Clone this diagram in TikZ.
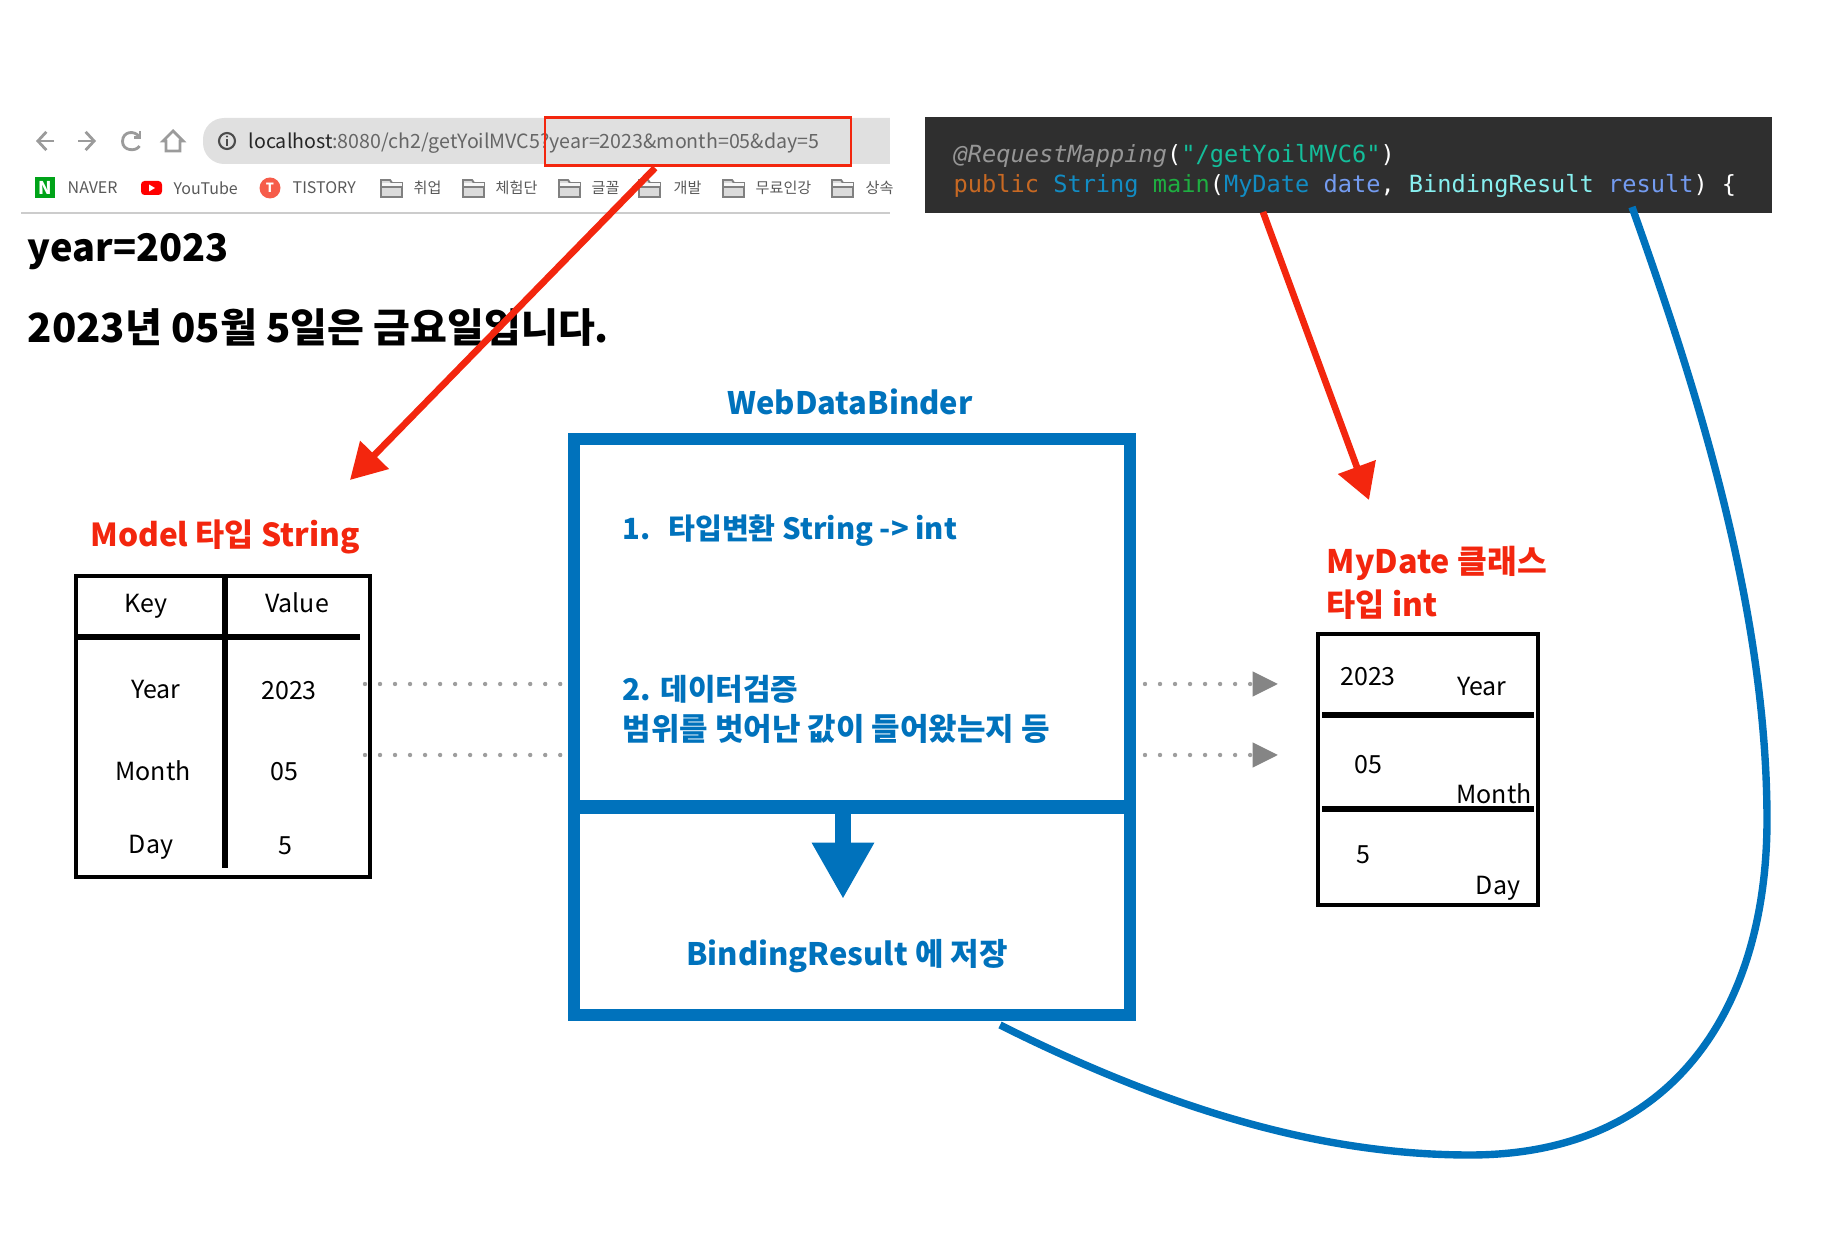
\documentclass[tikz,border=0pt]{standalone}
\usepackage{fontspec}
\setmainfont{Noto Sans CJK KR}
\setmonofont{DejaVu Sans Mono}
\usetikzlibrary{arrows.meta,positioning,calc}
\definecolor{bindBlue}{RGB}{0,114,188}
\definecolor{noteRed}{RGB}{243,38,14}
\definecolor{barGray}{RGB}{224,224,224}
\definecolor{iconGray}{RGB}{155,155,155}
\definecolor{codeBack}{RGB}{47,47,47}
\definecolor{codeGray}{RGB}{150,150,150}
\definecolor{codeStr}{RGB}{20,190,155}
\definecolor{codeKey}{RGB}{200,105,35}
\definecolor{codeType}{RGB}{18,140,195}
\definecolor{codeFun}{RGB}{30,175,65}
\definecolor{codeVar}{RGB}{115,155,240}
\definecolor{codeCls}{RGB}{135,240,240}
\tikzset{
  tblline/.style={draw=black, line width=1.6pt},
  tbltext/.style={font=\fontsize{7.1}{9}\selectfont, inner sep=0pt, text=black},
  bluetext/.style={font=\fontsize{8.8}{11}\selectfont\bfseries, inner sep=0pt, text=bindBlue},
  redtext/.style={font=\fontsize{9}{11}\selectfont\bfseries, inner sep=0pt, text=noteRed},
  pagetext/.style={font=\fontsize{10.8}{13}\selectfont\bfseries, inner sep=0pt, text=black, anchor=west},
  marktext/.style={font=\fontsize{4.3}{6}\selectfont, inner sep=0pt, text=black!65, anchor=west},
  marklatin/.style={marktext, font=\fontsize{4.55}{6}\selectfont},
  codetext/.style={font=\fontsize{6.72}{8}\selectfont\ttfamily, inner sep=0pt, anchor=west},
  redarrow/.style={draw=noteRed, line width=1.9pt, -{Triangle[length=10pt,width=11pt]}},
  bluecurve/.style={draw=bindBlue, line width=2.1pt},
  dotline/.style={draw=black!38, line width=1.25pt, line cap=round, dash pattern=on 0pt off 4.27pt},
  dotarrow/.style={dotline, -{Triangle[length=7.2pt,width=6.8pt,color=black!48]}},
  iconline/.style={draw=iconGray, line width=0.8pt},
  folder/.style={draw=black!50, line width=0.55pt, fill=black!14},
}
\begin{document}
\begin{tikzpicture}[x=0.01cm, y=-0.01cm]
  \useasboundingbox (0,0) rectangle (1838,1240);
  % Browser bar
  \fill[barGray, rounded corners=6pt] (203,118) rectangle (930,164);
  \fill[white] (890,110) rectangle (930,170);
  \draw[iconline, -{Straight Barb[length=2.4pt,width=5.2pt]}] (54,141) -- (36,141);
  \draw[iconline, -{Straight Barb[length=2.4pt,width=5.2pt]}] (78,141) -- (96,141);
  \draw[iconline] (139.5,146) .. controls (136,152) and (122.5,151) .. (122.5,141.5)
    .. controls (122.5,131) and (135,130) .. (139.5,137);
  \draw[iconline] (140,131) -- (140,137.5) -- (134,137.5);
  \draw[iconline] (166,151) -- (166,141) -- (163,141) -- (173,131) -- (183,141) -- (180,141) -- (180,151) -- cycle;
  \draw[black!70, line width=0.6pt] (227,141) circle (8);
  \fill[black!70] (226,139) rectangle (228,146);
  \fill[black!70] (227,136.5) circle (1.2);
  \node[font=\fontsize{5.58}{8}\selectfont, inner sep=0pt, anchor=west, text=black!60] (url) at (248,143)
    {{\color{black!85}localhost}:8080/ch2/getYoilMVC5?year=2023\&month=05\&day=5};
  \node[draw=noteRed, line width=0.85pt, minimum width=306*0.01cm, minimum height=48*0.01cm, inner sep=0pt] (query) at (698,142) {};
  % Bookmarks
  \fill[green!60!black!90!cyan] (35,177) rectangle (55,198);
  \node[font=\fontsize{5}{5}\selectfont\bfseries, text=white, inner sep=0pt] (navericon) at (45,188) {N};
  \node[marklatin] (naver) at (67,188) {NAVER};
  \fill[red, rounded corners=1pt] (141,181) rectangle (162,195);
  \fill[white] (149,184.5) -- (149,191.5) -- (155,188) -- cycle;
  \node[marklatin] (youtube) at (173,188) {YouTube};
  \fill[noteRed!75] (270,188) circle (10.5);
  \node[font=\fontsize{3.6}{4}\selectfont\bfseries, text=white, inner sep=0pt] (tistoryicon) at (270,188) {T};
  \node[marklatin] (tistory) at (292,188) {TISTORY};
  \foreach \fx/\lx/\lbl in {381/413/취업, 463/495/체험단, 559/591/글꼴, 639/673/개발, 723/755/무료인강, 832/865/상속} {
    \draw[folder] (\fx,197) -- ++(0,-17) -- ++(9,0) -- ++(2,3) -- ++(10,0) -- ++(0,14) -- cycle;
    \fill[black!3] (\fx+0.5,183.5) rectangle ++(20,3);
    \draw[black!50, line width=0.4pt] (\fx,187) -- ++(21,0);
    \node[marktext] (mark\fx) at (\lx,188) {\lbl};
  }
  \draw[black!20, line width=0.6pt] (21,213) -- (890,213);
  % Page text
  \node[pagetext] (yeartext) at (27,252) {year=2023};
  \node[pagetext, font=\fontsize{11.4}{13}\selectfont\bfseries] (daytext) at (27,327.5) {2023년 05월 5일은 금요일입니다.};
  % Code
  \node[fill=codeBack, minimum width=847*0.01cm, minimum height=96*0.01cm, inner sep=0pt] (code) at (1348.5,165) {};
  \node[codetext] (line1) at (953,156.5) {{\itshape\color{codeGray}@RequestMapping}\textcolor{white}{(}\textcolor{codeStr}{"/getYoilMVC6"}\textcolor{white}{)}};
  \node[codetext] (line2) at (953,186) {\textcolor{codeKey}{public} \textcolor{codeType}{String} \textcolor{codeFun}{main}\textcolor{white}{(}\textcolor{codeType}{MyDate} \textcolor{codeVar}{date}\textcolor{white}{,} \textcolor{codeCls}{BindingResult} \textcolor{codeVar}{result}\textcolor{white}{) \{}};
  % Binder
  \node[bluetext] (bindertitle) at (850,402) {WebDataBinder};
  \node[draw=bindBlue, line width=3.4pt, minimum width=556*0.01cm, minimum height=576*0.01cm, inner sep=0pt] (binder) at (852,727) {};
  \coordinate (splitL) at (574,807);
  \coordinate (splitR) at (1130,807);
  \draw[bindBlue, line width=4pt] (splitL) -- (splitR);
  \node[bluetext, anchor=west, font=\fontsize{8.3}{11}\selectfont\bfseries] (stepa) at (622,530.5) {1.\hspace{5pt}타입변환 String -> int};
  \node[bluetext, anchor=west, font=\fontsize{8.5}{11}\selectfont\bfseries] (stepb) at (622,689) {2. 데이터검증};
  \node[bluetext, anchor=west] (stepc) at (622,729) {범위를 벗어난 값이 들어왔는지 등};
  \node[bluetext] (saved) at (847,956.5) {BindingResult 에 저장};
  \coordinate (saveTop) at (843,812);
  \coordinate (saveTip) at (843,899);
  \draw[bindBlue, line width=4.6pt, -{Triangle[length=16pt,width=16.6pt]}] (saveTop) -- (saveTip);
  % Model table
  \node[redtext] (modeltitle) at (225,536.5) {Model 타입 String};
  \node[draw=black, line width=1pt, minimum width=294*0.01cm, minimum height=301*0.01cm, inner sep=0pt] (model) at (223,726.5) {};
  \coordinate (modelTop) at (225,578);
  \coordinate (modelBot) at (225,868);
  \coordinate (modelL) at (75,637);
  \coordinate (modelR) at (360,637);
  \draw[tblline] (modelTop) -- (modelBot);
  \draw[tblline] (modelL) -- (modelR);
  \node[tbltext] (mkey) at (146,606.5) {Key};
  \node[tbltext] (mval) at (297,603) {Value};
  \node[tbltext] (myear) at (156,690) {Year};
  \node[tbltext] (myearv) at (289,690.5) {2023};
  \node[tbltext] (mmonth) at (153,771) {Month};
  \node[tbltext] (mmonthv) at (284,771.5) {05};
  \node[tbltext] (mday) at (151,847.5) {Day};
  \node[tbltext] (mdayv) at (285,846) {5};
  % MyDate table
  \node[redtext, anchor=west, font=\fontsize{9.2}{11}\selectfont\bfseries] (datetitle) at (1326,563.5) {MyDate 클래스};
  \node[redtext, anchor=west] (datetype) at (1326,605) {타입 int};
  \node[draw=black, line width=1pt, minimum width=220*0.01cm, minimum height=271*0.01cm, inner sep=0pt] (mydate) at (1428,769.5) {};
  \coordinate (rowaL) at (1322,715);
  \coordinate (rowaR) at (1534,715);
  \coordinate (rowbL) at (1322,809);
  \coordinate (rowbR) at (1534,809);
  \draw[tblline] (rowaL) -- (rowaR);
  \draw[tblline] (rowbL) -- (rowbR);
  \node[tbltext] (dyearv) at (1368,676.5) {2023};
  \node[tbltext] (dyear) at (1482,687) {Year};
  \node[tbltext] (dmonthv) at (1368,764.5) {05};
  \node[tbltext] (dmonth) at (1494,794) {Month};
  \node[tbltext] (ddayv) at (1363,855) {5};
  \node[tbltext] (dday) at (1498,888.5) {Day};
  % Dots
  \coordinate (inaL) at (365,684);
  \coordinate (inaR) at (565,684);
  \coordinate (inbL) at (365,755);
  \coordinate (inbR) at (565,755);
  \coordinate (outaL) at (1145,684);
  \coordinate (outaR) at (1278,684);
  \coordinate (outbL) at (1145,755);
  \coordinate (outbR) at (1278,755);
  \draw[dotline] (inaL) -- (inaR);
  \draw[dotline] (inbL) -- (inbR);
  \draw[dotarrow] (outaL) -- (outaR);
  \draw[dotarrow] (outbL) -- (outbR);
  % Arrows
  \coordinate (queryOut) at (655,168);
  \coordinate (modelTip) at (350,480);
  \coordinate (codeOut) at (1263,212);
  \coordinate (dateTip) at (1369,500);
  \coordinate (resultIn) at (1632,207);
  \coordinate (savedOut) at (1000,1025);
  \draw[redarrow] (queryOut) -- (modelTip);
  \draw[redarrow] (codeOut) -- (dateTip);
  \draw[bluecurve] (savedOut) .. controls (1180,1115) and (1330,1155) .. (1470,1155)
    .. controls (1680,1155) and (1767,1000) .. (1767,820)
    .. controls (1767,600) and (1690,370) .. (resultIn);
\end{tikzpicture}
\end{document}
